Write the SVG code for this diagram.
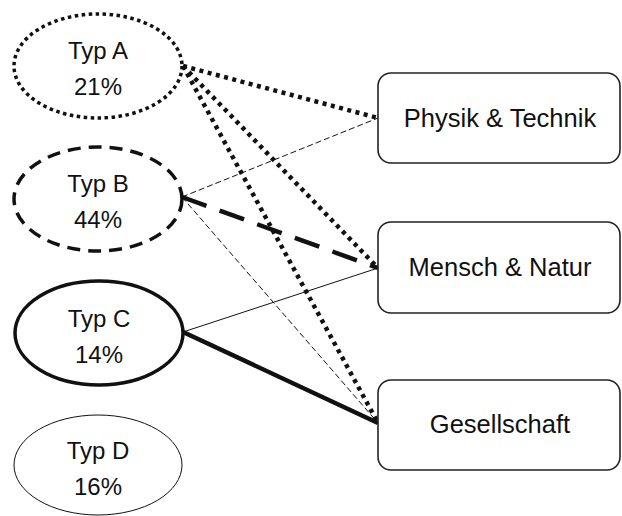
<svg xmlns="http://www.w3.org/2000/svg" width="622" height="516" viewBox="0 0 622 516">
<style>
text{font-family:"Liberation Sans",Arial,sans-serif;font-size:24px;fill:#111;text-anchor:middle}
.bt{font-size:25.5px}
.box{fill:#fff;stroke:#222;stroke-width:1.6}
.ell{fill:#fff;stroke:#111}
.c{fill:none;stroke:#111}
</style>
<rect width="622" height="516" fill="#fff"/>
<g id="connectors">
<line class="c" x1="183" y1="66" x2="378" y2="118" stroke-width="4.5" stroke-dasharray="4 4.5"/>
<line class="c" x1="183" y1="66" x2="378" y2="268" stroke-width="4.5" stroke-dasharray="4 4.5"/>
<line class="c" x1="183" y1="66" x2="378" y2="423" stroke-width="4.5" stroke-dasharray="4 4.5"/>
<line class="c" x1="182" y1="197" x2="378" y2="118" stroke-width="1" stroke-dasharray="6 3"/>
<line class="c" x1="182" y1="197" x2="378" y2="268" stroke-width="4.5" stroke-dasharray="26 14"/>
<line class="c" x1="182" y1="197" x2="378" y2="423" stroke-width="1" stroke-dasharray="6 3"/>
<line class="c" x1="183" y1="332" x2="378" y2="268" stroke-width="1"/>
<line class="c" x1="183" y1="332" x2="378" y2="423" stroke-width="4.5"/>
</g>
<g id="typA"><ellipse class="ell" cx="98" cy="66" rx="84" ry="52" stroke-width="3.5" stroke-dasharray="3.5 3.5"/><text x="98" y="59">Typ A</text><text x="98" y="95">21%</text></g>
<g id="typB"><ellipse class="ell" cx="98" cy="199" rx="84" ry="52" stroke-width="3.5" stroke-dasharray="13 8"/><text x="98" y="192">Typ B</text><text x="98" y="228">44%</text></g>
<g id="typC"><ellipse class="ell" cx="99" cy="333" rx="84" ry="52" stroke-width="3.5"/><text x="99" y="327">Typ C</text><text x="99" y="363">14%</text></g>
<g id="typD"><ellipse class="ell" cx="98" cy="465" rx="84" ry="50" stroke-width="1" stroke="#444"/><text x="98" y="459">Typ D</text><text x="98" y="495">16%</text></g>
<g id="physik"><rect class="box" x="378" y="73" width="242" height="90" rx="13"/><text class="bt" x="500" y="127">Physik &amp; Technik</text></g>
<g id="mensch"><rect class="box" x="378" y="222" width="242" height="91" rx="13"/><text class="bt" x="500" y="276">Mensch &amp; Natur</text></g>
<g id="gesellschaft"><rect class="box" x="378" y="380" width="242" height="90" rx="13"/><text class="bt" x="500" y="433">Gesellschaft</text></g>
</svg>
